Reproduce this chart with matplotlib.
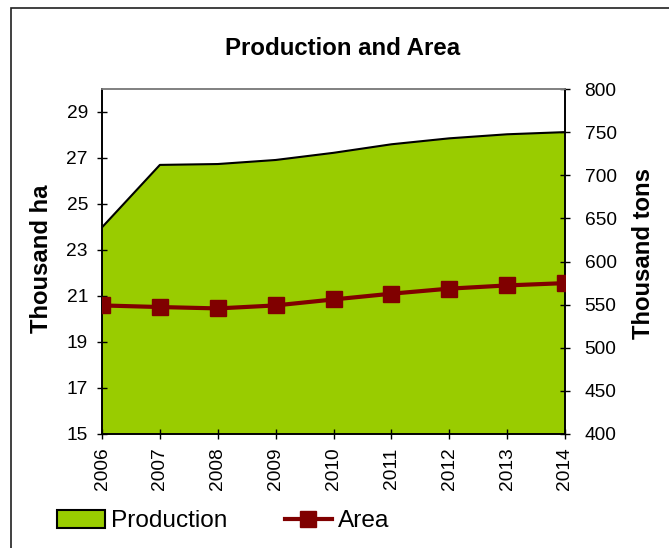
import matplotlib
matplotlib.use("Agg")
import matplotlib.pyplot as plt
from matplotlib.patches import Rectangle, Patch
from matplotlib.lines import Line2D
import numpy as np

plt.rcParams['font.family'] = ['Liberation Sans', 'DejaVu Sans']

years = ["2006", "2007", "2008", "2009", "2010", "2011", "2012", "2013", "2014"]
production = [639.6, 712, 713, 717.7, 726, 735.9, 742.8, 747.5, 750]   # thousand tons
area = [20.59, 20.52, 20.46, 20.59, 20.85, 21.10, 21.32, 21.46, 21.56]  # thousand ha

W, H = 669, 548
fig = plt.figure(figsize=(W / 100, H / 100), dpi=100)

# outer frame
fig.patches.append(Rectangle((11 / W, -0.1), 2.0, 1 - 8 / H + 0.1, transform=fig.transFigure,
                             fill=False, edgecolor='#202020', linewidth=1.2, zorder=0))

L, R, T, B = 102, 565, 89, 434
ax = fig.add_axes([L / W, 1 - B / H, (R - L) / W, (B - T) / H])
ax2 = ax.twinx()

x = np.arange(len(years))
green = '#99CC00'
red = '#800000'

ax2.fill_between(x, 400, production, facecolor=green, edgecolor='none', zorder=1)
ax2.plot(x, production, color='black', linewidth=1.5, zorder=2)
ax2.set_ylim(400, 800)
ax2.set_yticks(np.arange(400, 801, 50))

ax.plot(x, area, color=red, linewidth=3.0, marker='s', markersize=11,
        markerfacecolor=red, markeredgecolor=red, zorder=3)
ax.set_ylim(15, 30)
ax.set_yticks(np.arange(15, 30, 2))
ax.set_xlim(0, len(years) - 1)
ax.set_xticks(x)
ax.set_xticklabels(years, rotation=90)

ax.set_zorder(ax2.get_zorder() + 1)
ax.patch.set_visible(False)

for a in (ax, ax2):
    a.spines['top'].set_color('#808080')
    a.spines['left'].set_color('black')
    a.spines['right'].set_color('black')
    a.spines['bottom'].set_color('black')
    for s in a.spines.values():
        s.set_linewidth(1.2)

tick_fs = 13.8
ax.tick_params(axis='y', direction='inout', length=7.2, width=1, labelsize=tick_fs, pad=6.5)
ax.tick_params(axis='x', direction='inout', length=7.2, width=1, labelsize=tick_fs, pad=6)
ax2.tick_params(axis='y', direction='inout', length=7.2, width=1, labelsize=tick_fs, pad=10.5)

fig.text(343 / W, 1 - 48.5 / H, "Production and Area", ha='center', va='center',
         fontsize=17.3, fontweight='bold')
fig.text(42 / W, 1 - 259 / H, "Thousand ha", ha='center', va='center', rotation=90,
         fontsize=17.2, fontweight='bold')
fig.text(644 / W, 1 - 254 / H, "Thousand tons", ha='center', va='center', rotation=90,
         fontsize=17.2, fontweight='bold')

handles = [Patch(facecolor=green, edgecolor='black', linewidth=1.5),
           Line2D([0], [0], color=red, linewidth=3.0, marker='s', markersize=11,
                  markerfacecolor=red, markeredgecolor=red)]
fig.legend(handles, ["Production", "Area"], loc='center left',
           bbox_to_anchor=(57 / W, 1 - 521 / H), ncol=2, frameon=False,
           fontsize=17.6, handlelength=1.95, handleheight=0.8, handletextpad=0.25,
           columnspacing=2.35, borderpad=0, borderaxespad=0)

fig.savefig("out.png", dpi=100)
